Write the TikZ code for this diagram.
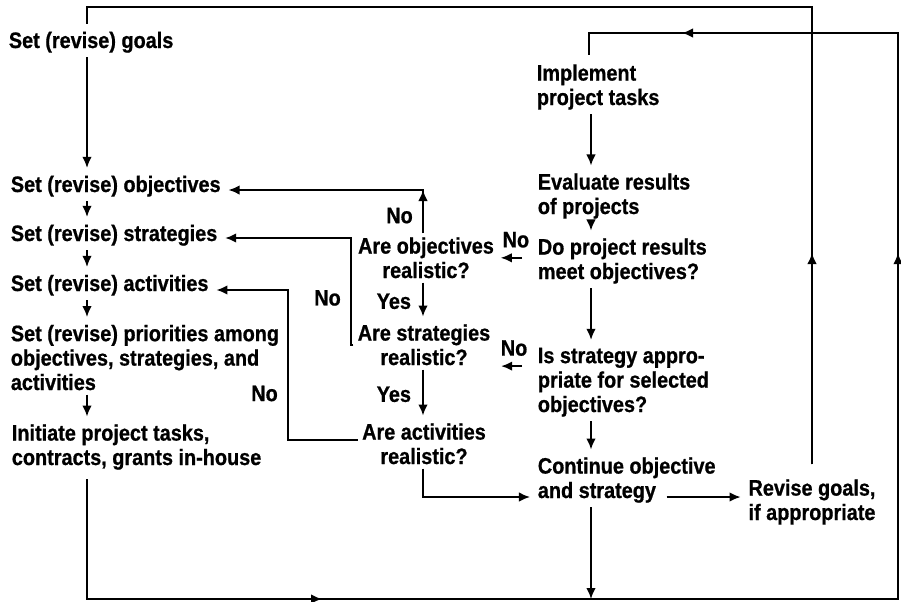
\documentclass[tikz,border=0pt]{standalone}
\usepackage{fontspec}
\newfontfamily\chartfont{Liberation Sans}[FakeStretch=0.89,BoldFeatures={FakeBold=0.8}]
\usetikzlibrary{arrows.meta,positioning}
\tikzset{
  txt/.style={inner sep=0pt,anchor=base west,align=left},
  qtxt/.style={inner sep=0pt,anchor=base,align=center},
  flow/.style={->,shorten >=4pt,shorten <=2pt}
}

\begin{document}
\begin{tikzpicture}[x=0.2mm,y=-0.2mm,>={Latex[length=2.2mm,width=1.9mm]},
    font=\chartfont\bfseries\fontsize{12.7}{13.9}\selectfont,line width=1pt]
  \useasboundingbox (0,0) rectangle (901,601);
  % left column (base = last line)
  \node[txt] (goals) at (8,48) {Set (revise) goals};
  \node[txt] (obj) at (10,192) {Set (revise) objectives};
  \node[txt] (str) at (10,241) {Set (revise) strategies};
  \node[txt] (act) at (10,291) {Set (revise) activities};
  \node[txt] (prio) at (10,390) {Set (revise) priorities among\\objectives, strategies, and\\activities};
  \node[txt] (init) at (11,465) {Initiate project tasks,\\contracts, grants in-house};
  % questions
  \node[qtxt] (qobj) at (426,278) {Are objectives\\realistic?};
  \node[qtxt] (qstr) at (424,365) {Are strategies\\realistic?};
  \node[qtxt] (qact) at (424,464) {Are activities\\realistic?};
  % right column
  \node[txt] (impl) at (536,105) {Implement\\project tasks};
  \node[txt] (eval) at (537,214) {Evaluate results\\of projects};
  \node[txt] (meet) at (537,279) {Do project results\\meet objectives?};
  \node[txt] (appr) at (537,412) {Is strategy appro-\\priate for selected\\objectives?};
  \node[txt] (cont) at (537,498) {Continue objective\\and strategy};
  \node[qtxt] (rev) at (812,520) {Revise goals,\\if appropriate};

  \coordinate (goaltop) at (87,7);
  \coordinate (revtop) at (812,7);
  \coordinate (revmid) at (812,253);
  \coordinate (botleft) at (87,599);
  \coordinate (botarr) at (322,599);
  \coordinate (botright) at (898,599);
  \coordinate (rightarr) at (898,253);
  \coordinate (topright) at (898,33);
  \coordinate (toparr) at (682,33);
  \coordinate (impltop) at (589,33);
  \coordinate (contbot) at (591,599);
  \coordinate (objturn) at (423,190);
  \coordinate (strtop) at (351,238);
  \coordinate (strbot) at (351,345);
  \coordinate (acttop) at (288,290);
  \coordinate (actbot) at (288,440);
  \coordinate (contturn) at (423,497);
  \coordinate (contout) at (663,497);

  % goals loop
  \draw[shorten <=8pt,shorten >=4pt] (rev.north) -- (revtop) -- (goaltop) -- (goals.north -| goaltop);
  \draw[->,shorten <=8pt] (rev.north) -- (revmid);
  % project loop
  \draw[shorten <=5pt,shorten >=5pt] (init.south -| botleft) -- (botleft) -- (botright)
    -- (topright) -- (impltop) -- (impl.north -| impltop);
  \draw[->] (botleft) -- (botarr);
  \draw[->] (botright) -- (rightarr);
  \draw[->] (topright) -- (toparr);

  \draw[flow] (goals.south -| goaltop) -- (obj.north -| goaltop);
  \draw[flow] (obj.south -| goaltop) -- (str.north -| goaltop);
  \draw[flow] (str.south -| goaltop) -- (act.north -| goaltop);
  \draw[flow] (act.south -| goaltop) -- (prio.north -| goaltop);
  \draw[flow] (prio.south -| goaltop) -- (init.north -| goaltop);

  \draw[flow] (impl.south -| contbot) -- (eval.north -| contbot);
  \draw[flow] (eval.south -| contbot) -- (meet.north -| contbot);
  \draw[flow] (meet.south -| contbot) -- (appr.north -| contbot);
  \draw[flow] (appr.south -| contbot) -- (cont.north -| contbot);
  \draw[->,shorten <=2pt] (cont.south -| contbot) -- (contbot);
  \draw[flow] (contout) -- (rev.west |- contout);

  % checks
  \draw[->,shorten <=8.5pt,shorten >=3.4pt] (meet.west |- qobj.east) -- node[above=2pt] (nomeet) {No} (qobj.east);
  \draw[->,shorten <=8.5pt,shorten >=5.7pt] (appr.west |- qstr.south) -- node[above=2pt] (noappr) {No} (qstr.south east);
  \draw[flow] (qobj.north -| objturn) -- node[left=2pt,pos=0.45] (noobj) {No} (objturn) -- (obj.east |- objturn);
  \draw[->,shorten <=2pt] (qobj.north -| objturn) -- (objturn);
  \draw[flow] (qobj.south -| objturn) -- node[left=3pt] (yesobj) {Yes} (qstr.north -| objturn);
  \draw[flow] (qstr.south -| objturn) -- node[left=3pt] (yesstr) {Yes} (qact.north -| objturn);
  \draw[flow] (qstr.west |- strbot) -- (strbot) -- node[left=2pt,pos=0.44] (nostr) {No} (strtop) -- (str.east |- strtop);
  \draw[flow] (qact.west |- actbot) -- (actbot) -- node[left=2pt,pos=0.31] (noact) {No} (acttop) -- (act.east |- acttop);
  \draw[flow] (qact.south -| contturn) -- (contturn) -- (cont.west |- contturn);
\end{tikzpicture}
\end{document}
